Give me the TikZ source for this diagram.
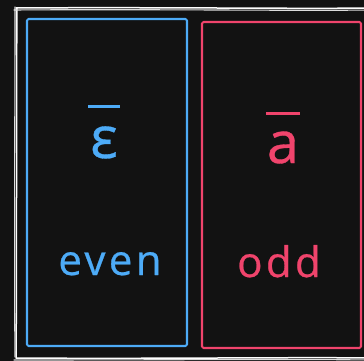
\documentclass[tikz,border=0pt]{standalone}
\usepackage{fontspec}
\setmainfont{Open Sans}
\newfontfamily\labfont[LetterSpace=8,FakeBold=0.6]{Open Sans}
\newfontfamily\symfont[FakeBold=0.6]{Open Sans}
\definecolor{bgc}{HTML}{121212}
\definecolor{bluec}{HTML}{4DABF7}
\definecolor{redc}{HTML}{F0446C}
\tikzset{
  sketch/.style={line width=2.1pt, rounded corners=1.5pt, line cap=round, line join=round},
  bigsym/.style={inner sep=0pt, align=center, font=\fontsize{58}{58}\selectfont\symfont},
  word/.style={inner sep=0pt, anchor=base, font=\fontsize{42}{42}\selectfont\labfont},
}
\newcommand{\barover}[2]{\rule{#1}{2.8pt}\\[#2]}
\begin{document}
\begin{tikzpicture}[x=1pt,y=-1pt]
\useasboundingbox (0,0) rectangle (364,361);
\fill[bgc] (0,0) rectangle (364,361);
% outer white frame (double sketch stroke)
\draw[sketch, white, line width=1.5pt] (16,8) .. controls (150,7) and (300,9) .. (368,8)
  (17,8) .. controls (16,120) and (17,250) .. (16,358)
  (16,358) .. controls (150,359) and (300,357) .. (368,358);
\draw[sketch, white!85!bgc, line width=1.1pt] (14,10) .. controls (150,9) and (300,11) .. (368,10)
  (15,7) .. controls (15,120) and (14,250) .. (15,357)
  (14,360) .. controls (150,360) and (300,359) .. (368,360);
% blue box
\node[sketch, draw=bluec, minimum width=160pt, minimum height=327pt, inner sep=0pt] (evenbox) at (107,182.5) {};
% red box
\node[sketch, draw=redc, minimum width=159pt, minimum height=326pt, inner sep=0pt] (oddbox) at (281.5,185) {};
% symbols
\node[bigsym, text=bluec, anchor=base] (eps) at (104,158) {\barover{32pt}{-8pt}ε};
\node[bigsym, text=redc, anchor=base] (abar) at (283,163) {\barover{34pt}{-10pt}a};
% words
\node[word, text=bluec] (even) at (110,275) {even};
\node[word, text=redc] (odd) at (279,277) {odd};
\end{tikzpicture}
\end{document}
